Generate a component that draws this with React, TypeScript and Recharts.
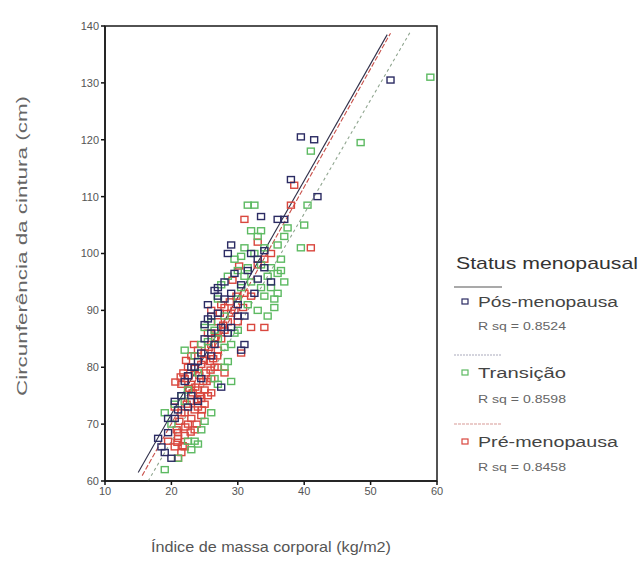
import React from 'react';
import { ScatterChart, Scatter, XAxis, YAxis } from 'recharts';

const xTicks = [10, 20, 30, 40, 50, 60];
const yTicks = [60, 70, 80, 90, 100, 110, 120, 130, 140];

const seriesNames = ['Pós-menopausa', 'Transição', 'Pré-menopausa'];
const seriesColors = ['#2b2b63', '#5dba62', '#d9473e'];
const rsqLabels = ['R sq = 0.8524', 'R sq = 0.8598', 'R sq = 0.8458'];

const fitIntercepts = [30.7, 27.0, 28.5];
const fitSlopes = [2.053, 2.0, 2.08];
const fitXStart = [15.0, 16.5, 15.6];
const fitXEnd = [52.5, 56.0, 53.0];
const fitColors = ['#30304a', '#8fa58f', '#c8504a'];
const fitDashes = ['', '3 3', '5 2'];

const posMenopausa = [
  { x: 53, y: 130.5 }, { x: 39.5, y: 120.5 }, { x: 41.5, y: 120 }, { x: 42, y: 110 },
  { x: 37, y: 106 }, { x: 33.5, y: 106.5 }, { x: 29, y: 101.5 }, { x: 28.5, y: 100 },
  { x: 32, y: 100 }, { x: 33, y: 99 }, { x: 34, y: 97.5 }, { x: 27, y: 94 },
  { x: 28, y: 95 }, { x: 27, y: 92.5 }, { x: 26.5, y: 93.5 }, { x: 29, y: 93 },
  { x: 31, y: 89 }, { x: 30, y: 89 }, { x: 27.5, y: 87 }, { x: 25, y: 87.5 },
  { x: 26.5, y: 84 }, { x: 31, y: 84 }, { x: 30.5, y: 83 }, { x: 23, y: 80 },
  { x: 23.5, y: 80 }, { x: 27.5, y: 76.5 }, { x: 24.5, y: 78 }, { x: 18, y: 67.5 },
  { x: 18.5, y: 66 }, { x: 20, y: 64 }, { x: 19.5, y: 68.5 }, { x: 20.5, y: 71 },
  { x: 22.5, y: 73 }, { x: 21.5, y: 75 }, { x: 24, y: 81 }, { x: 25, y: 85 },
  { x: 26, y: 89 }, { x: 29, y: 87 }, { x: 30, y: 91 }, { x: 35, y: 95 },
  { x: 36, y: 106 }, { x: 38, y: 113 }, { x: 22, y: 77.5 }, { x: 19, y: 65 },
  { x: 26, y: 82 }, { x: 28.5, y: 86 }, { x: 24, y: 74 }, { x: 25.5, y: 91 },
  { x: 32.5, y: 93 }, { x: 22.5, y: 78.5 }, { x: 21, y: 72.5 }, { x: 23, y: 75 },
  { x: 24.5, y: 82.5 }, { x: 25.5, y: 88.5 }, { x: 27, y: 89.5 }, { x: 28, y: 92 },
  { x: 30.5, y: 94.5 }, { x: 29.5, y: 96.5 }, { x: 33, y: 95.5 }, { x: 34, y: 100.5 },
  { x: 19.5, y: 71 }, { x: 20.5, y: 74 }, { x: 26, y: 86 }, { x: 31.5, y: 97 },
];

const transicao = [
  { x: 19, y: 62 }, { x: 21, y: 64 }, { x: 23, y: 65.5 }, { x: 19, y: 72 },
  { x: 20, y: 70 }, { x: 22, y: 74 }, { x: 21.5, y: 75 }, { x: 22.5, y: 67 },
  { x: 23.5, y: 67 }, { x: 24, y: 66.5 }, { x: 24.5, y: 69 }, { x: 25, y: 70.5 },
  { x: 26, y: 72 }, { x: 22, y: 83 }, { x: 23.5, y: 82 }, { x: 24.5, y: 84 },
  { x: 25, y: 87 }, { x: 26, y: 88 }, { x: 27, y: 85 }, { x: 28, y: 83.5 },
  { x: 29, y: 84 }, { x: 29.5, y: 86 }, { x: 28.5, y: 81 }, { x: 30, y: 92 },
  { x: 30.5, y: 94 }, { x: 31, y: 96 }, { x: 31.5, y: 97.5 }, { x: 32, y: 95 },
  { x: 32.5, y: 100 }, { x: 33, y: 103 }, { x: 33.5, y: 104 }, { x: 34, y: 101 },
  { x: 34.5, y: 96 }, { x: 35, y: 94 }, { x: 35.5, y: 92 }, { x: 36, y: 93 },
  { x: 34, y: 92.5 }, { x: 36.5, y: 97 }, { x: 36, y: 101.5 }, { x: 37, y: 103 },
  { x: 37.5, y: 104.5 }, { x: 31.5, y: 108.5 }, { x: 32.5, y: 108.5 }, { x: 40, y: 105 },
  { x: 39.5, y: 101 }, { x: 40.5, y: 108.5 }, { x: 41, y: 118 }, { x: 48.5, y: 119.5 },
  { x: 59, y: 131 }, { x: 36, y: 96.5 }, { x: 30, y: 97 }, { x: 29.5, y: 99 },
  { x: 31, y: 101 }, { x: 28, y: 89 }, { x: 27, y: 92 }, { x: 33, y: 90 },
  { x: 29, y: 77.5 }, { x: 26.5, y: 78 }, { x: 27.5, y: 94.5 }, { x: 28.5, y: 96 },
  { x: 30.5, y: 99.5 }, { x: 32, y: 104 }, { x: 33.5, y: 98 }, { x: 35, y: 97.5 },
  { x: 36.5, y: 99 }, { x: 37, y: 95 }, { x: 35.5, y: 90.5 }, { x: 34.5, y: 89 },
  { x: 28, y: 80 }, { x: 27, y: 77 }, { x: 24, y: 79 }, { x: 22.5, y: 76 },
  { x: 20.5, y: 73.5 }, { x: 25.5, y: 84.5 }, { x: 26.5, y: 86.5 }, { x: 30, y: 86.5 },
  { x: 33.5, y: 94 }, { x: 31.5, y: 91 },
];

const preMenopausa = [
  { x: 20.5, y: 66 }, { x: 21, y: 67.5 }, { x: 21.5, y: 65 }, { x: 22, y: 68 },
  { x: 20.8, y: 69 }, { x: 21.2, y: 70.5 }, { x: 22.5, y: 70 }, { x: 23, y: 71 },
  { x: 22, y: 72 }, { x: 23.5, y: 72.5 }, { x: 24, y: 73 }, { x: 22.8, y: 74 },
  { x: 23.2, y: 75.5 }, { x: 24.5, y: 74.5 }, { x: 21.5, y: 77 }, { x: 22, y: 78 },
  { x: 21.8, y: 79 }, { x: 23, y: 77 }, { x: 24, y: 76 }, { x: 24.8, y: 77.5 },
  { x: 25, y: 76 }, { x: 25.5, y: 75 }, { x: 24.2, y: 78.5 }, { x: 25.2, y: 79 },
  { x: 26, y: 78 }, { x: 26.5, y: 80 }, { x: 25.8, y: 81 }, { x: 24.5, y: 80.5 },
  { x: 23.5, y: 79.8 }, { x: 22.5, y: 80 }, { x: 23, y: 82 }, { x: 24, y: 83 },
  { x: 25, y: 82.5 }, { x: 26, y: 84 }, { x: 27, y: 83 }, { x: 27.5, y: 85 },
  { x: 26.8, y: 86 }, { x: 28, y: 86.5 }, { x: 27, y: 88 }, { x: 28.5, y: 88 },
  { x: 29, y: 89.5 }, { x: 28, y: 90.5 }, { x: 27.5, y: 91 }, { x: 29.5, y: 90 },
  { x: 30, y: 88 }, { x: 26, y: 90 }, { x: 30.5, y: 82.5 }, { x: 32, y: 87 },
  { x: 34, y: 87 }, { x: 31, y: 93 }, { x: 32, y: 92.5 }, { x: 33, y: 98 },
  { x: 34, y: 99 }, { x: 35, y: 100 }, { x: 31, y: 106 }, { x: 33, y: 102 },
  { x: 38.5, y: 112 }, { x: 38, y: 108.5 }, { x: 22, y: 66 }, { x: 21, y: 64 },
  { x: 23.5, y: 69 }, { x: 24.5, y: 71.5 }, { x: 20.5, y: 73 }, { x: 25, y: 73.5 },
  { x: 26, y: 75.5 }, { x: 21, y: 68.5 }, { x: 19.5, y: 67 }, { x: 22.7, y: 76.3 },
  { x: 25.5, y: 86 }, { x: 27, y: 80 }, { x: 28, y: 79 }, { x: 41, y: 101 },
  { x: 21.5, y: 72 }, { x: 22.3, y: 73.5 }, { x: 23.8, y: 70 }, { x: 24.6, y: 72.5 },
  { x: 22.6, y: 78.5 }, { x: 23.6, y: 76.5 }, { x: 24.3, y: 75 }, { x: 25.3, y: 77.5 },
  { x: 25.9, y: 79.5 }, { x: 26.3, y: 81.5 }, { x: 22.1, y: 69.5 }, { x: 20.9, y: 66.8 },
  { x: 21.7, y: 66.2 }, { x: 22.9, y: 68.6 }, { x: 23.9, y: 74.3 }, { x: 25.6, y: 83.5 },
  { x: 26.6, y: 85.2 }, { x: 27.8, y: 87.4 }, { x: 28.8, y: 91.5 }, { x: 29.8, y: 92.5 },
  { x: 30.8, y: 90.5 }, { x: 27.3, y: 89.5 }, { x: 24.9, y: 81.2 }, { x: 23.4, y: 84 },
  { x: 21.4, y: 78.3 }, { x: 20.6, y: 77.4 }, { x: 22.2, y: 81.2 }, { x: 26.9, y: 82 },
  { x: 29.2, y: 95.3 }, { x: 30.2, y: 97.8 },
];

const seriesData = [posMenopausa, transicao, preMenopausa];

const FONT = 'Liberation Sans, Arial, sans-serif';

const makeSquare = (color: string) => (props: any) => {
  const { cx, cy } = props;
  if (cx == null || cy == null) return <g />;
  return (
    <rect x={cx - 3.5} y={cy - 3} width={7} height={6} fill="none" stroke={color} strokeWidth={1.4} />
  );
};

const noShape = () => <g />;

const XTitle = (props: any) => {
  const vb = props.viewBox || { x: 105, width: 332 };
  return (
    <text x={vb.x + vb.width / 2} y={552} textAnchor="middle" fontFamily={FONT} fontSize={15}
      fill="#555" textLength={240} lengthAdjust="spacingAndGlyphs">
      Índice de massa corporal (kg/m2)
    </text>
  );
};

const YTitle = () => (
  <text x={0} y={0} transform="translate(27,246) rotate(-90)" textAnchor="middle" fontFamily={FONT}
    fontSize={15} fill="#666" textLength={300} lengthAdjust="spacingAndGlyphs">
    Circunferência da cintura (cm)
  </text>
);

const PLOT = { left: 105, top: 26, right: 437, bottom: 481 };

const Overlay = () => {
  const lineYs = [287, 355, 424];
  const itemYs = [302, 373, 442];
  const rsqYs = [326, 399, 467];
  const itemWidths = [140, 88, 140];
  const lineColors = ['#555', '#aab', '#d89a96'];
  const lineDash = ['', '2 1', '3 1'];
  return (
    <svg width={640} height={565} style={{ position: 'absolute', left: 0, top: 0, pointerEvents: 'none' }}>
      <rect x={PLOT.left} y={PLOT.top} width={PLOT.right - PLOT.left} height={PLOT.bottom - PLOT.top}
        fill="none" stroke="#1a1a1a" strokeWidth={1.5} />
      <text x={456} y={269} fontFamily={FONT} fontSize={17} fill="#333" textLength={182}
        lengthAdjust="spacingAndGlyphs">Status menopausal</text>
      {seriesNames.map((n, i) => (
        <g key={n}>
          <line x1={454} x2={502} y1={lineYs[i]} y2={lineYs[i]} stroke={lineColors[i]} strokeWidth={1.2}
            strokeDasharray={lineDash[i] || undefined} />
          <rect x={462} y={itemYs[i] - 3} width={6} height={5} fill="none" stroke={seriesColors[i]} strokeWidth={1.2} />
          <text x={478} y={itemYs[i] + 5} fontFamily={FONT} fontSize={14} fill="#444" textLength={itemWidths[i]}
            lengthAdjust="spacingAndGlyphs">{n}</text>
          <text x={478} y={rsqYs[i] + 4} fontFamily={FONT} fontSize={11} fill="#666" textLength={88}
            lengthAdjust="spacingAndGlyphs">{rsqLabels[i]}</text>
        </g>
      ))}
    </svg>
  );
};

export default function App() {
  const fits = fitIntercepts.map((a, i) => [
    { x: fitXStart[i], y: a + fitSlopes[i] * fitXStart[i] },
    { x: fitXEnd[i], y: a + fitSlopes[i] * fitXEnd[i] },
  ]);
  return (
    <div style={{ position: 'absolute', left: 0, top: 0, width: 640, height: 565, background: '#fff' }}>
      <ScatterChart width={640} height={565} margin={{ top: 26, right: 203, bottom: 54, left: 60 }}>
        <XAxis type="number" dataKey="x" domain={[10, 60]} ticks={xTicks} height={30}
          axisLine={{ stroke: '#111', strokeWidth: 1.5 }} tickLine={{ stroke: '#111', strokeWidth: 1.5 }}
          tickSize={4} tick={{ fontSize: 11, fill: '#555', fontFamily: FONT }} allowDataOverflow
          label={<XTitle />} />
        <YAxis type="number" dataKey="y" domain={[60, 140]} ticks={yTicks} width={45}
          axisLine={{ stroke: '#111', strokeWidth: 1.5 }} tickLine={{ stroke: '#111', strokeWidth: 1.5 }}
          tickSize={4} tick={{ fontSize: 11, fill: '#555', fontFamily: FONT }} allowDataOverflow
          label={<YTitle />} />
        {fits.map((d, i) => (
          <Scatter key={'fit' + i} data={d} line={{ stroke: fitColors[i], strokeWidth: 1.1, strokeDasharray: fitDashes[i] || undefined }}
            shape={noShape} isAnimationActive={false} legendType="none" />
        ))}
        {[2, 1, 0].map((i) => (
          <Scatter key={seriesNames[i]} name={seriesNames[i]} data={seriesData[i]} shape={makeSquare(seriesColors[i])}
            isAnimationActive={false} />
        ))}
      </ScatterChart>
      <Overlay />
    </div>
  );
}
